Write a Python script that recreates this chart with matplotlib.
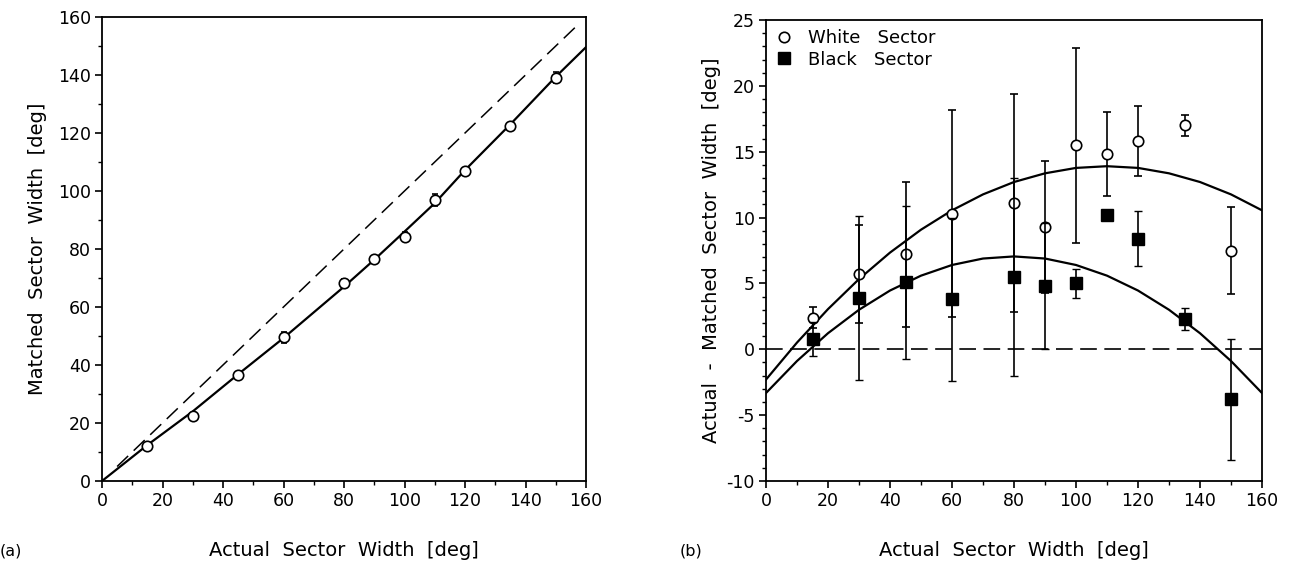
import matplotlib.pyplot as plt
import numpy as np
from matplotlib.ticker import MultipleLocator

plt.rcParams['font.family'] = ['DejaVu Sans']
plt.rcParams['axes.unicode_minus'] = False

# ---- panel (a): matched vs actual width ----
actual_a = [15, 30, 45, 60, 80, 90, 100, 110, 120, 135, 150]
matched_a = [12.2, 22.4, 36.7, 49.5, 68.2, 76.4, 84.3, 96.9, 106.9, 122.5, 139.1]
matched_a_err = [0.8, 0.6, 0.8, 2.0, 1.5, 0.8, 1.5, 2.0, 1.0, 0.8, 2.0]

# fitted curve
fit_a_x = [0, 15, 30, 45, 60, 80, 90, 100, 110, 120, 135, 150, 160]
fit_a_y = [0, 12.4, 24.0, 36.8, 49.3, 67.0, 76.3, 86.0, 95.8, 107.2, 123.0, 139.4, 149.6]

# identity line
ident = [5, 157]

# ---- panel (b): actual - matched ----
actual_b = [15, 30, 45, 60, 80, 90, 100, 110, 120, 135, 150]
white = [2.4, 5.7, 7.2, 10.3, 11.1, 9.3, 15.5, 14.8, 15.8, 17.0, 7.5]
white_err = [0.8, 3.7, 5.5, 7.85, 8.3, 5.0, 7.4, 3.2, 2.65, 0.8, 3.3]
black = [0.8, 3.9, 5.1, 3.8, 5.5, 4.8, 5.0, 10.2, 8.4, 2.3, -3.8]
black_err = [1.3, 6.25, 5.8, 6.2, 7.5, 4.8, 1.1, 0.3, 2.1, 0.85, 4.6]

# quadratic fit curves
fit_b_x = [0, 10, 20, 30, 40, 50, 60, 70, 80, 90, 100, 110, 120, 130, 140, 150, 160]
fit_white = [-2.30, 0.51, 3.05, 5.33, 7.34, 9.08, 10.55, 11.76, 12.70, 13.36,
             13.77, 13.90, 13.77, 13.36, 12.70, 11.76, 10.55]
fit_black = [-3.32, -0.89, 1.22, 3.00, 4.46, 5.59, 6.40, 6.89, 7.05, 6.89,
             6.40, 5.59, 4.46, 3.00, 1.22, -0.89, -3.32]

fig = plt.figure(figsize=(13.06, 5.74), dpi=100)
W, H = 1306.0, 574.0
ax1 = fig.add_axes([102 / W, 1 - 481 / H, 484 / W, 464 / H])
ax2 = fig.add_axes([766 / W, 1 - 481 / H, 496 / W, 461 / H])

lw = 1.6
# panel (a)
ax1.plot(ident, ident, color='black', lw=1.1, dashes=(10, 5))
ax1.plot(fit_a_x, fit_a_y, color='black', lw=lw)
ax1.errorbar(actual_a, matched_a, yerr=matched_a_err, fmt='o', ms=7.5,
             mfc='white', mec='black', mew=1.2, ecolor='black',
             elinewidth=1.2, capsize=2.5, zorder=3)
ax1.set_xlim(0, 160)
ax1.set_ylim(0, 160)
ax1.xaxis.set_major_locator(MultipleLocator(20))
ax1.xaxis.set_minor_locator(MultipleLocator(10))
ax1.yaxis.set_major_locator(MultipleLocator(20))
ax1.yaxis.set_minor_locator(MultipleLocator(10))
ax1.set_ylabel('Matched  Sector  Width  [deg]', fontsize=14, labelpad=8)

# panel (b)
ax2.axhline(0, color='black', lw=1.2, dashes=(10, 4.5))
ax2.plot(fit_b_x, fit_white, color='black', lw=lw)
ax2.plot(fit_b_x, fit_black, color='black', lw=lw)
ax2.errorbar(actual_b, white, yerr=white_err, fmt='o', ms=7.5,
             mfc='white', mec='black', mew=1.2, ecolor='black',
             elinewidth=1.2, capsize=3, zorder=3, label='White   Sector')
ax2.errorbar(actual_b, black, yerr=black_err, fmt='s', ms=9,
             mfc='black', mec='black', ecolor='black',
             elinewidth=1.2, capsize=3, zorder=4, label='Black   Sector')
ax2.set_xlim(0, 160)
ax2.set_ylim(-10, 25)
ax2.xaxis.set_major_locator(MultipleLocator(20))
ax2.xaxis.set_minor_locator(MultipleLocator(10))
ax2.yaxis.set_major_locator(MultipleLocator(5))
ax2.yaxis.set_minor_locator(MultipleLocator(1))
ax2.set_ylabel('Actual  -  Matched  Sector  Width  [deg]', fontsize=14, labelpad=4)
handles, labels = ax2.get_legend_handles_labels()
handles = [h[0] for h in handles]
ax2.legend(handles, labels, loc='upper left', frameon=False, fontsize=13,
           handletextpad=0.8, borderaxespad=0.2, labelspacing=0.2,
           handlelength=1.0, borderpad=0.3)

for ax in (ax1, ax2):
    for s in ax.spines.values():
        s.set_linewidth(1.3)
    ax.tick_params(which='major', direction='out', length=5, width=1.2,
                   labelsize=12.5, pad=3)
    ax.tick_params(which='minor', direction='out', length=3, width=1.0)

fig.text(0 / W, 1 - 551 / H, '(a)', fontsize=11.5, va='center', ha='left')
fig.text(344 / W, 1 - 551 / H, 'Actual  Sector  Width  [deg]', fontsize=14,
         va='center', ha='center')
fig.text(680 / W, 1 - 551 / H, '(b)', fontsize=11.5, va='center', ha='left')
fig.text(1014 / W, 1 - 551 / H, 'Actual  Sector  Width  [deg]', fontsize=14,
         va='center', ha='center')

fig.savefig('out.png', dpi=100)
